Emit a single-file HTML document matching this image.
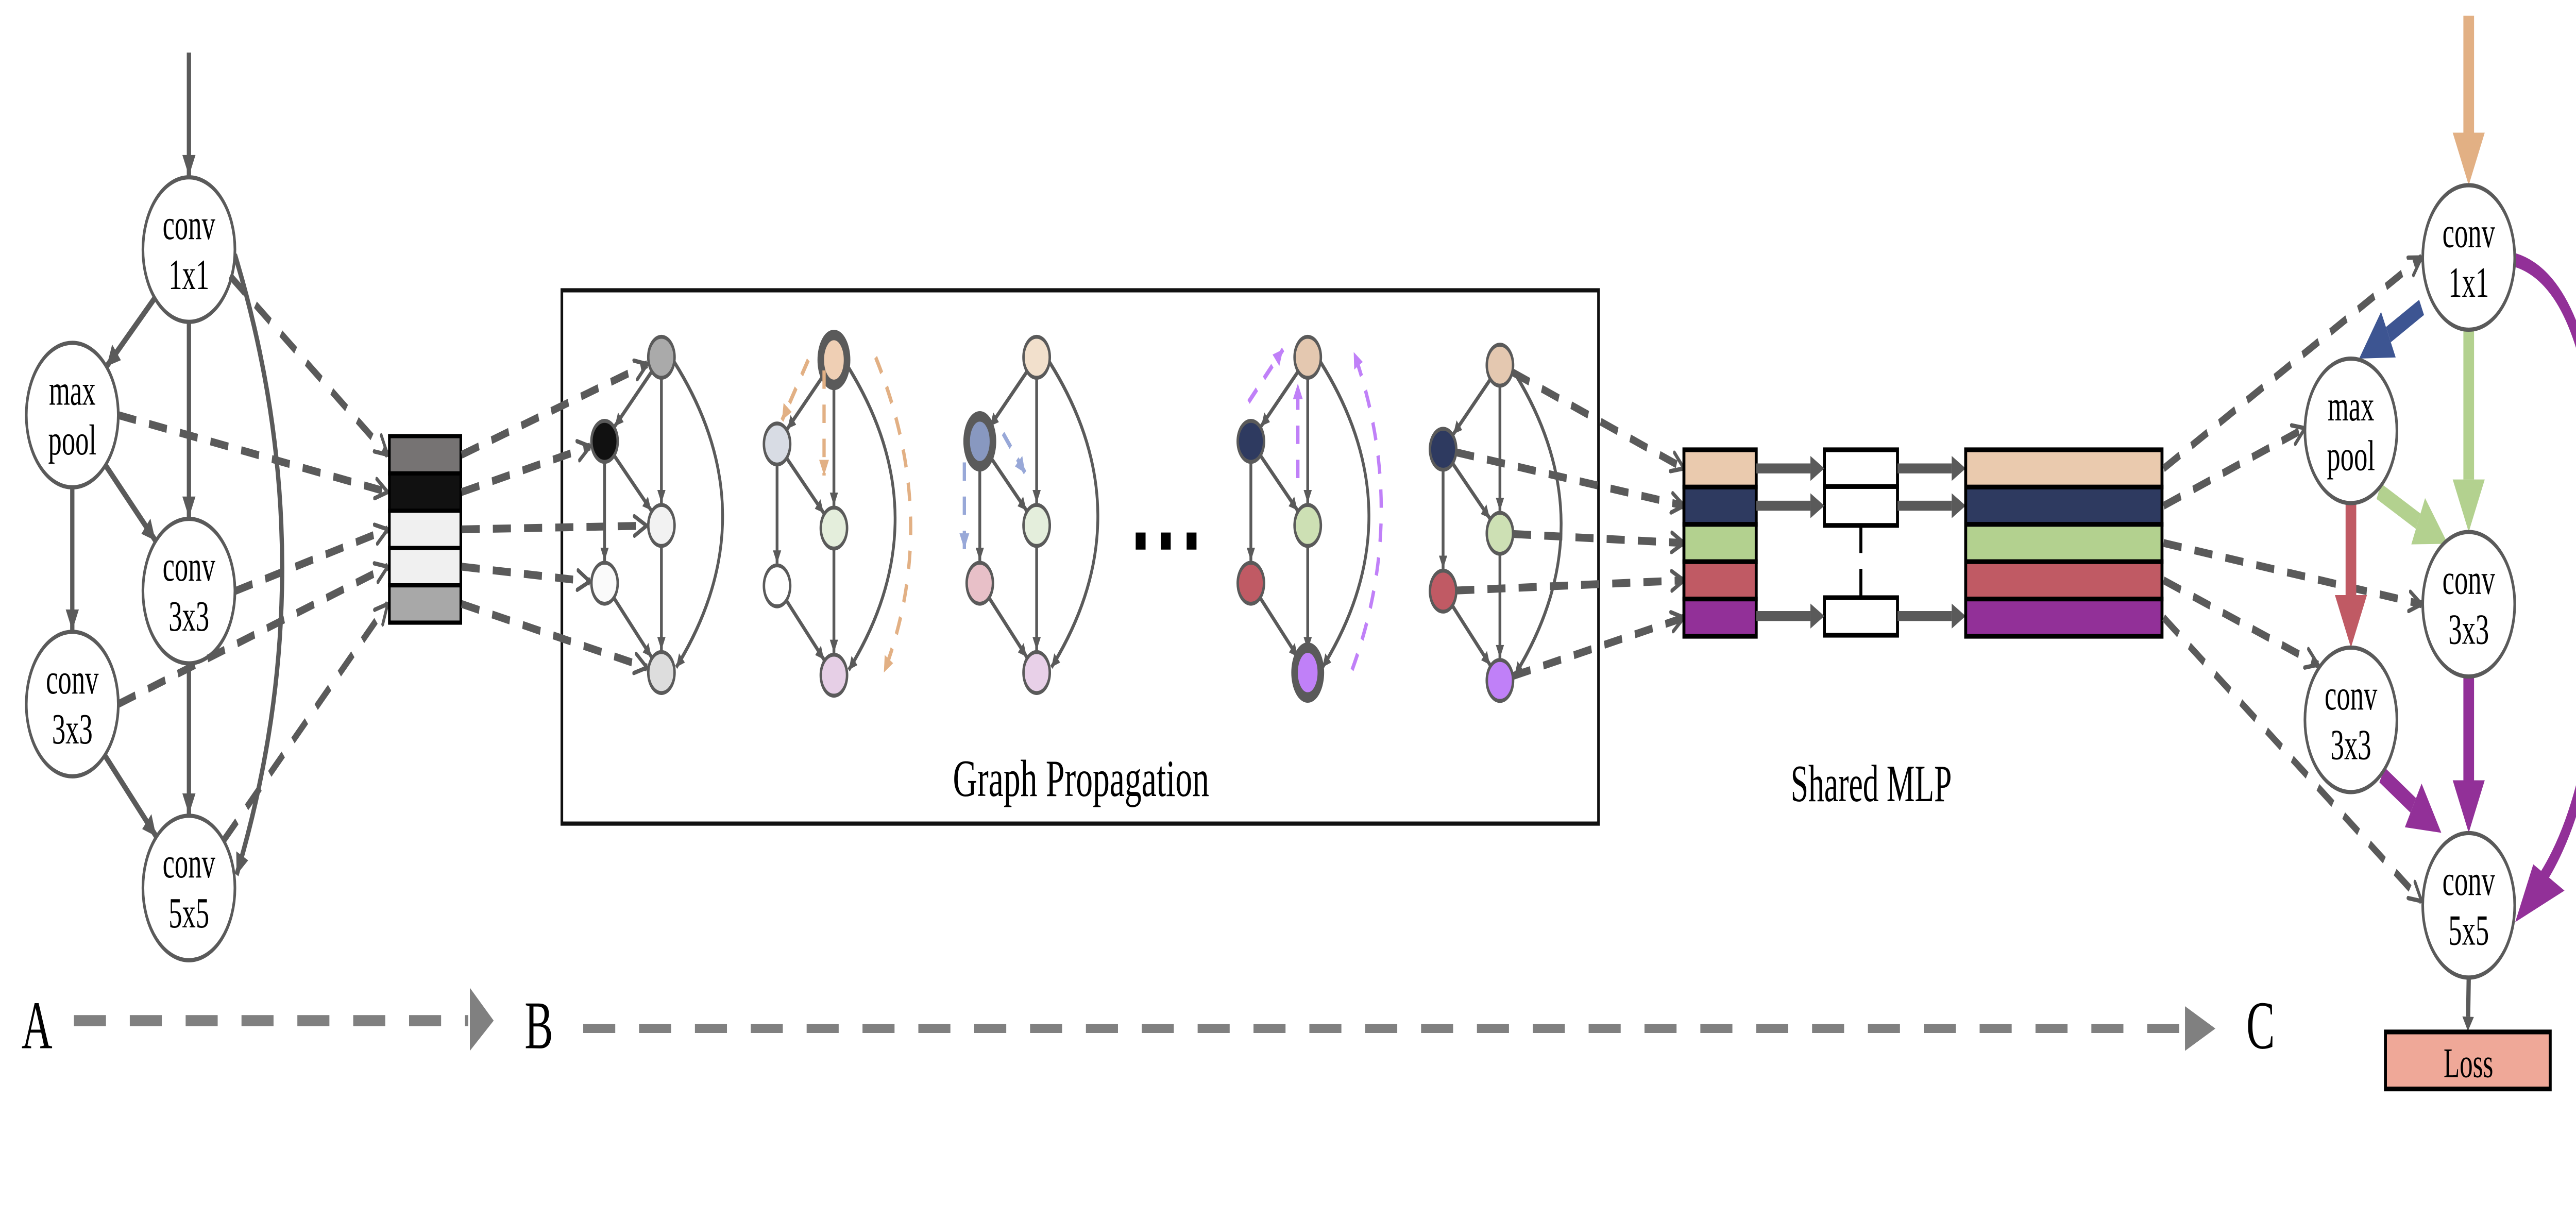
<!DOCTYPE html>
<html><head><meta charset="utf-8">
<style>
html,body{margin:0;padding:0;background:#fff;overflow:hidden;width:100%;height:100%;}
svg{display:block;position:fixed;left:0;top:0;width:100vw;height:100vh;}
text{font-family:"Liberation Serif",serif;fill:#000;}
</style></head>
<body>
<svg id="fig" xmlns="http://www.w3.org/2000/svg" viewBox="0 0 1568 464" preserveAspectRatio="none">
<defs>
<marker id="hg" markerUnits="userSpaceOnUse" viewBox="0 0 10 10" refX="10" refY="5" markerWidth="9" markerHeight="8" orient="auto"><path d="M0,0 L10,5 L0,10 z" fill="#5a5a5a"/></marker>
<marker id="hs" markerUnits="userSpaceOnUse" viewBox="0 0 10 10" refX="10" refY="5" markerWidth="6" markerHeight="5" orient="auto"><path d="M0,0 L10,5 L0,10 z" fill="#5a5a5a"/></marker>
<marker id="chev" markerUnits="userSpaceOnUse" viewBox="0 0 12 12" refX="11" refY="6" markerWidth="9" markerHeight="9" orient="auto"><path d="M1,1 L11,6 L1,11" fill="none" stroke="#5a5a5a" stroke-width="2.2" stroke-linecap="round"/></marker>
<marker id="ho" markerUnits="userSpaceOnUse" viewBox="0 0 10 10" refX="10" refY="5" markerWidth="6" markerHeight="6" orient="auto"><path d="M0,0 L10,5 L0,10 z" fill="#e2b084"/></marker>
<marker id="hb" markerUnits="userSpaceOnUse" viewBox="0 0 10 10" refX="10" refY="5" markerWidth="6" markerHeight="6" orient="auto"><path d="M0,0 L10,5 L0,10 z" fill="#98a8d8"/></marker>
<marker id="hp" markerUnits="userSpaceOnUse" viewBox="0 0 10 10" refX="10" refY="5" markerWidth="6" markerHeight="6" orient="auto"><path d="M0,0 L10,5 L0,10 z" fill="#c080f8"/></marker>
</defs>
</svg>
<script>
const NS='http://www.w3.org/2000/svg';
const svg=document.getElementById('fig');
function mk(tag,attrs,parent){const e=document.createElementNS(NS,tag);for(const k in attrs)e.setAttribute(k,attrs[k]);(parent||svg).appendChild(e);return e;}
function unit(a,b){const dx=b[0]-a[0],dy=b[1]-a[1],l=Math.hypot(dx,dy);return [dx/l,dy/l];}
function edge(a,b,ra,rb,attrs,name){const u=unit(a,b);const e=mk('line',Object.assign({x1:a[0]+u[0]*ra,y1:a[1]+u[1]*ra,x2:b[0]-u[0]*rb,y2:b[1]-u[1]*rb},attrs));


return e;}
function fat(a,b,w,hw,hl,color,name){const u=unit(a,b);const ex=b[0]-u[0]*hl,ey=b[1]-u[1]*hl;const g=mk('g',{});


mk('line',{x1:a[0],y1:a[1],x2:ex,y2:ey,stroke:color,'stroke-width':w},g);
mk('polygon',{points:`${b[0]},${b[1]} ${ex-u[1]*hw/2},${ey+u[0]*hw/2} ${ex+u[1]*hw/2},${ey-u[0]*hw/2}`,fill:color},g);return g;}
function label(x,y,t,size,name,extra){const e=mk('text',Object.assign({x:x,y:y,'font-size':size,'text-anchor':'middle'},extra||{}));e.textContent=t;


return e;}
function bigNode(c,l1,l2,name){const g=mk('g',{});


mk('ellipse',{cx:c[0],cy:c[1],rx:28,ry:27.5,fill:'#fff',stroke:'#5a5a5a','stroke-width':1.6},g);
const t1=mk('text',{x:c[0],y:c[1]-4,'font-size':16.5,'text-anchor':'middle'},g);t1.textContent=l1;
const t2=mk('text',{x:c[0],y:c[1]+15,'font-size':16.5,'text-anchor':'middle'},g);t2.textContent=l2;return g;}
const DASH={stroke:'#5a5a5a','stroke-width':3,'stroke-dasharray':'11 8',fill:'none','marker-end':'url(#chev)'};

const L={c11:[115,95],mp:[44,158],c33m:[115,225],c33l:[44,268],c55:[115,338]};
const SOL={stroke:'#5a5a5a','stroke-width':2.6,'marker-end':'url(#hg)'};
edge([115,20],L.c11,0,28,SOL,'input-arrow-a');
edge(L.c11,L.mp,27,28,SOL,'edge-conv1x1-maxpool');
edge(L.c11,L.c33m,27,28,SOL,'edge-conv1x1-conv3x3');
edge(L.mp,L.c33m,27,28,SOL,'edge-maxpool-conv3x3');
edge(L.mp,L.c33l,27,28,SOL,'edge-maxpool-conv3x3-left');
edge(L.c33m,L.c55,27,28,SOL,'edge-conv3x3-conv5x5');
edge(L.c33l,L.c55,27,28,SOL,'edge-conv3x3-left-conv5x5');
let cv=mk('path',{d:'M143,97 Q200,215 144,333',stroke:'#5a5a5a','stroke-width':2.6,fill:'none','marker-end':'url(#hg)'});


bigNode(L.c11,'conv','1x1','node-a-conv1x1');
bigNode(L.mp,'max','pool','node-a-maxpool');
bigNode(L.c33m,'conv','3x3','node-a-conv3x3');
bigNode(L.c33l,'conv','3x3','node-a-conv3x3-left');
bigNode(L.c55,'conv','5x5','node-a-conv5x5');

const rowsY=[173.1,187.3,201.5,215.7,229.9];
const greyCols=['#767373','#111111','#f0f0f0','#f0f0f0','#a8a8a8'];
const lsrc=[[140,105],[72,158],[143,225],[72,268],[136,320]];
lsrc.forEach((p,i)=>{const e=mk('line',Object.assign({x1:p[0],y1:p[1],x2:236,y2:rowsY[i]},DASH));

});
const gs=mk('g',{});


greyCols.forEach((c,i)=>mk('rect',{x:237,y:166+i*14.2,width:43.5,height:14.2,fill:c,stroke:'#000','stroke-width':1.6},gs));

let box=mk('rect',{x:342,y:110.5,width:631,height:203,fill:'none',stroke:'#111','stroke-width':1.6});


label(658,303,'Graph Propagation',20,'graph-propagation-label',{textLength:156,lengthAdjust:'spacingAndGlyphs'});

const gTopX=[402.6,507.6,631,796,913];
const gDy=[0,1,0,0,3];
const fills=[
['#aaaaaa','#111111','#f2f2f2','#fafafa','#dddddd'],
['#efcfb4','#d8dce4','#e4eedc','#ffffff','#e6cfe6'],
['#f2e0cc','#8898c0','#e4eedc','#e8c0c8','#e8d0e8'],
['#e4c8b0','#2e3a60','#cde0b4','#c05a64','#c080f8'],
['#e4c8b0','#2e3a60','#cde0b4','#c05a64','#c080f8']];
const thick=[[-1],[0],[1],[4],[-1]];
const nodePos=[];
for(let g=0;g<5;g++){
 const T=gTopX[g],d=gDy[g],Lx=T-34.6;
 const P=[[T,136+d],[Lx,168+d],[T,200+d],[Lx,222+d],[T,256+d]];
 nodePos.push(P);
 const grp=mk('g',{});
 
 
 const S={stroke:'#5a5a5a','stroke-width':1.7,'marker-end':'url(#hs)'};
 [[0,1],[0,2],[1,2],[1,3],[2,4],[3,4]].forEach(([a,b])=>{const e=edge(P[a],P[b],8,8.5,S,'graph-edge');grp.appendChild(e);});
 mk('path',{d:`M${T+8},${P[0][1]+2} Q${T+66},${(P[0][1]+P[4][1])/2} ${T+9},${P[4][1]-2}`,stroke:'#5a5a5a','stroke-width':1.7,fill:'none','marker-end':'url(#hs)'},grp);
 P.forEach((p,i)=>{const th=thick[g].includes(i);mk('ellipse',{cx:p[0],cy:p[1],rx:8,ry:th?9.5:7.8,fill:fills[g][i],stroke:'#5a5a5a','stroke-width':th?4:1.5},grp);});
}
function dl(d,color,m,name){const e=mk('path',{d:d,stroke:color,'stroke-width':2,'stroke-dasharray':'7 6',fill:'none','marker-end':'url(#'+m+')'});

}
dl('M492,137 L476,160','#e2b084','ho','orange-message-1');
dl('M501.6,141 L501.6,181','#e2b084','ho','orange-message-2');
dl('M533,136 Q573,198 538,256','#e2b084','ho','orange-message-3');
dl('M610.6,165 L624,180','#98a8d8','hb','blue-message-1');
dl('M587,176 L587,209','#98a8d8','hb','blue-message-2');
dl('M760,153 L781,133','#c080f8','hp','purple-message-1');
dl('M790,182 L790,146','#c080f8','hp','purple-message-2');
dl('M823,255 Q858,195 824,134','#c080f8','hp','purple-message-3');
const dots=mk('g',{});


[691.3,706.6,722.3].forEach(x=>mk('rect',{x:x,y:202.7,width:6,height:6.5,fill:'#000'},dots));

nodePos[0].forEach((p,i)=>{const u=unit([281,rowsY[i]],p);const e=mk('line',Object.assign({x1:281,y1:rowsY[i],x2:p[0]-u[0]*9,y2:p[1]-u[1]*9},DASH));

});

const mRows=[178.3,192.5,206.7,220.9,235.1];
const colCols=['#eacaae','#2e3a60','#b3d18f','#c05a64','#923098'];
nodePos[4].forEach((p,i)=>{const u=unit(p,[1025,mRows[i]]);const e=mk('line',Object.assign({x1:p[0]+u[0]*8,y1:p[1]+u[1]*8,x2:1025,y2:mRows[i]},DASH));

});
const s1=mk('g',{});


colCols.forEach((c,i)=>mk('rect',{x:1025,y:171.2+i*14.2,width:44,height:14.2,fill:c,stroke:'#000','stroke-width':1.8},s1));
const mb=mk('g',{});


mk('rect',{x:1110.5,y:171.2,width:44.5,height:14,fill:'#fff',stroke:'#000','stroke-width':1.8},mb);
mk('rect',{x:1110.5,y:185.2,width:44.5,height:14.8,fill:'#fff',stroke:'#000','stroke-width':1.8},mb);
mk('rect',{x:1110.5,y:227.5,width:44.5,height:14.3,fill:'#fff',stroke:'#000','stroke-width':1.8},mb);
mk('line',{x1:1132.7,y1:200,x2:1132.7,y2:210.5,stroke:'#000','stroke-width':1.8},mb);
mk('line',{x1:1132.7,y1:216.5,x2:1132.7,y2:227.5,stroke:'#000','stroke-width':1.8},mb);
[178.3,192.5,234.5].forEach(y=>{fat([1069,y],[1110.5,y],3.8,9.5,8.5,'#5a5a5a','mlp-input-arrow');fat([1155,y],[1196.5,y],3.8,9.5,8.5,'#5a5a5a','mlp-output-arrow');});
const s2=mk('g',{});


colCols.forEach((c,i)=>mk('rect',{x:1196.5,y:171.2+i*14.2,width:119.5,height:14.2,fill:c,stroke:'#000','stroke-width':1.8},s2));
label(1139,305,'Shared MLP',20,'shared-mlp-label',{textLength:98,lengthAdjust:'spacingAndGlyphs'});

const R={c11:[1502.7,98],mp:[1431,164],c33r:[1502.7,230],c33l:[1431,274],c55:[1502.7,344.6]};
const rt=[[1474,98],[1403,163],[1474,230],[1411,253],[1474,343]];
rt.forEach((p,i)=>{const e=mk('line',Object.assign({x1:1317,y1:mRows[i],x2:p[0],y2:p[1]},DASH));

});
fat([1502.7,6],[1502.7,70.5],6.5,19.5,20,'#e2b084','input-arrow-c');
fat([1474,117],[1436,136.5],6.5,19.5,20,'#3d5592','edge-c-conv1x1-maxpool');
fat([1502.7,126],[1502.7,202.5],6.5,19.5,20,'#b3d18f','edge-c-conv1x1-conv3x3');
fat([1448,187],[1490,207],6.5,19.5,20,'#b3d18f','edge-c-maxpool-conv3x3');
fat([1431,192],[1431,246.5],6.5,19.5,20,'#c05a64','edge-c-maxpool-conv3x3-left');
fat([1502.7,258],[1502.7,317],6.5,19.5,20,'#923098','edge-c-conv3x3-conv5x5');
fat([1450,295],[1486,317],6.5,19.5,20,'#923098','edge-c-conv3x3-left-conv5x5');
let pc=mk('path',{d:'M1531,99 Q1587,110 1585,225 Q1582,300 1548,334',stroke:'#923098','stroke-width':5.2,fill:'none'});


let ph=mk('polygon',{points:'1531,351 1542,329 1561,339',fill:'#923098'});


bigNode(R.c11,'conv','1x1','node-c-conv1x1');
bigNode(R.mp,'max','pool','node-c-maxpool');
bigNode(R.c33r,'conv','3x3','node-c-conv3x3');
bigNode(R.c33l,'conv','3x3','node-c-conv3x3-left');
bigNode(R.c55,'conv','5x5','node-c-conv5x5');
fat([1502.7,372.5],[1502.2,392.5],2.6,7,5.5,'#5a5a5a','edge-conv5x5-loss');
let lb=mk('rect',{x:1452,y:392.8,width:100.3,height:21.7,fill:'#efa898',stroke:'#000','stroke-width':1.8});


label(1502.5,410,'Loss',16,'loss-label');

label(22.5,399,'A',26,'stage-a-label');
label(328,399,'B',26,'stage-b-label');
label(1376,399,'C',26,'stage-c-label');
let a1=mk('line',{x1:45,y1:388.5,x2:285,y2:388.5,stroke:'#808080','stroke-width':4.2,'stroke-dasharray':'19.5 14.5'});


let a1h=mk('polygon',{points:'286,376 300.5,388.5 286,400',fill:'#808080'});


let a2=mk('line',{x1:355,y1:391.5,x2:1331,y2:391.5,stroke:'#808080','stroke-width':3.4,'stroke-dasharray':'19.5 14.5'});


let a2h=mk('polygon',{points:'1330,383 1348.5,391.5 1330,400',fill:'#808080'});


</script>
</body></html>
